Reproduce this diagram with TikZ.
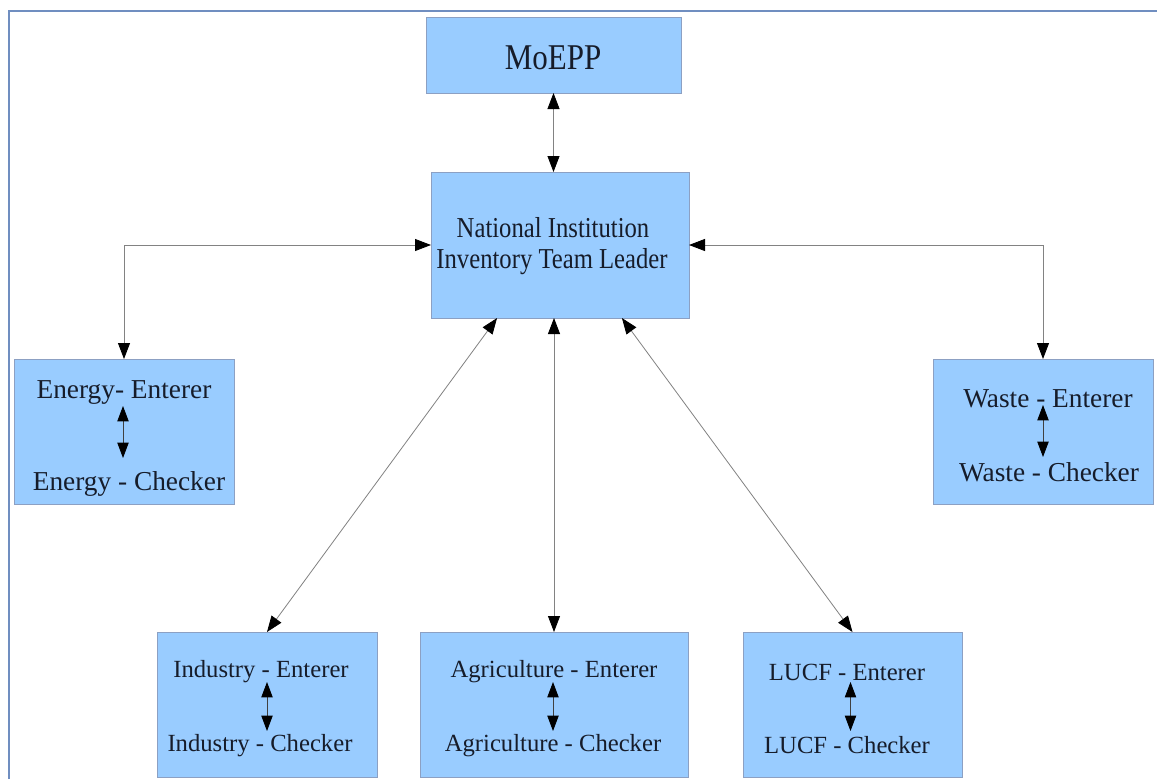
\documentclass[tikz,border=0pt]{standalone}
\usepackage{fontspec}
\setmainfont{Liberation Serif}
\usepackage{graphicx}
\usetikzlibrary{arrows.meta,calc,fit}
\definecolor{boxfill}{RGB}{153,204,255}
\definecolor{boxline}{RGB}{140,160,195}
\definecolor{framecol}{RGB}{112,142,192}
\definecolor{conncol}{RGB}{130,130,130}
\definecolor{txtcol}{RGB}{22,28,42}
\newcommand\fsA{\fontsize{23.25}{28}\selectfont}
\newcommand\fsB{\fontsize{20.5}{24}\selectfont}
\newcommand\fsC{\fontsize{18.5}{22}\selectfont}
\tikzset{
  box/.style={draw=boxline, fill=boxfill, line width=0.6pt, inner sep=0pt, outer sep=0pt},
  lbl/.style={anchor=base, inner sep=0pt, text=txtcol},
  conn/.style={draw=conncol, line width=0.6pt,
    arrows={Triangle[length=12pt,width=9pt,color=black]-Triangle[length=12pt,width=9pt,color=black]}},
  inarr/.style={draw=black!75, line width=0.6pt,
    arrows={Triangle[length=11.5pt,width=8.5pt,color=black]-Triangle[length=11.5pt,width=8.5pt,color=black]}}
}
\begin{document}
\begin{tikzpicture}[x=0.75pt,y=-0.75pt]
\useasboundingbox (0,0) rectangle (1157,779);
\fill[white] (0,0) rectangle (1157,779);
\draw[framecol, line width=1.5pt] (9,779) -- (9,11) -- (1157,11);

% boxes
\node[box, fit={(426,17) (681,93)}] (moepp) {};
\node[box, fit={(431,172) (689,318)}] (ni) {};
\node[box, fit={(14,359) (234,504)}] (enB) {};
\node[box, fit={(933,359) (1153,504)}] (waB) {};
\node[box, fit={(157,632) (377,777)}] (inB) {};
\node[box, fit={(420,632) (688,777)}] (agB) {};
\node[box, fit={(743,632) (962,777)}] (luB) {};

% texts
\node[lbl, font=\fsA] (moT) at (553,69) {\scalebox{1}[1.17]{MoEPP}};
\node[lbl, font=\fsC] (niT1) at (553,237) {\scalebox{1}[1.17]{National Institution}};
\node[lbl, font=\fsC] (niT2) at (552,268) {\scalebox{1}[1.17]{Inventory Team Leader}};
\node[lbl, font=\fsB] (enE) at (124,398) {Energy- Enterer};
\node[lbl, font=\fsB] (enC) at (129,490) {Energy - Checker};
\node[lbl, font=\fsB] (waE) at (1048,407) {Waste - Enterer};
\node[lbl, font=\fsB] (waC) at (1049,481) {Waste - Checker};
\node[lbl, font=\fsC] (inE) at (261,677) {Industry - Enterer};
\node[lbl, font=\fsC] (inC) at (260,751) {Industry - Checker};
\node[lbl, font=\fsC] (agE) at (554,677) {Agriculture - Enterer};
\node[lbl, font=\fsC] (agC) at (553,751) {Agriculture - Checker};
\node[lbl, font=\fsC] (luE) at (847,680) {LUCF - Enterer};
\node[lbl, font=\fsC] (luC) at (847,753) {LUCF - Checker};

% connectors
\draw[conn] (moepp.south) -- (moepp.south |- ni.north);
\draw[conn] (ni.west) -| (enB.north);
\draw[conn] (ni.east) -| (waB.north);
\draw[conn] ($(ni.south west)!0.256!(ni.south east)$) -- (inB.north);
\draw[conn] (agB.north |- ni.south) -- (agB.north);
\draw[conn] ($(ni.south west)!0.74!(ni.south east)$) -- (luB.north);

% inner arrows
\draw[inarr] ($(enB.north)+(-1,47)$) -- ($(enB.north)+(-1,99)$);
\draw[inarr] ($(waB.north)+(0,46)$) -- ($(waB.north)+(0,98)$);
\draw[inarr] ($(inB.north)+(0,50)$) -- ($(inB.north)+(0,99)$);
\draw[inarr] ($(agB.north)+(-1,50)$) -- ($(agB.north)+(-1,99)$);
\draw[inarr] ($(luB.north)+(-2,50)$) -- ($(luB.north)+(-2,99)$);
\end{tikzpicture}
\end{document}
